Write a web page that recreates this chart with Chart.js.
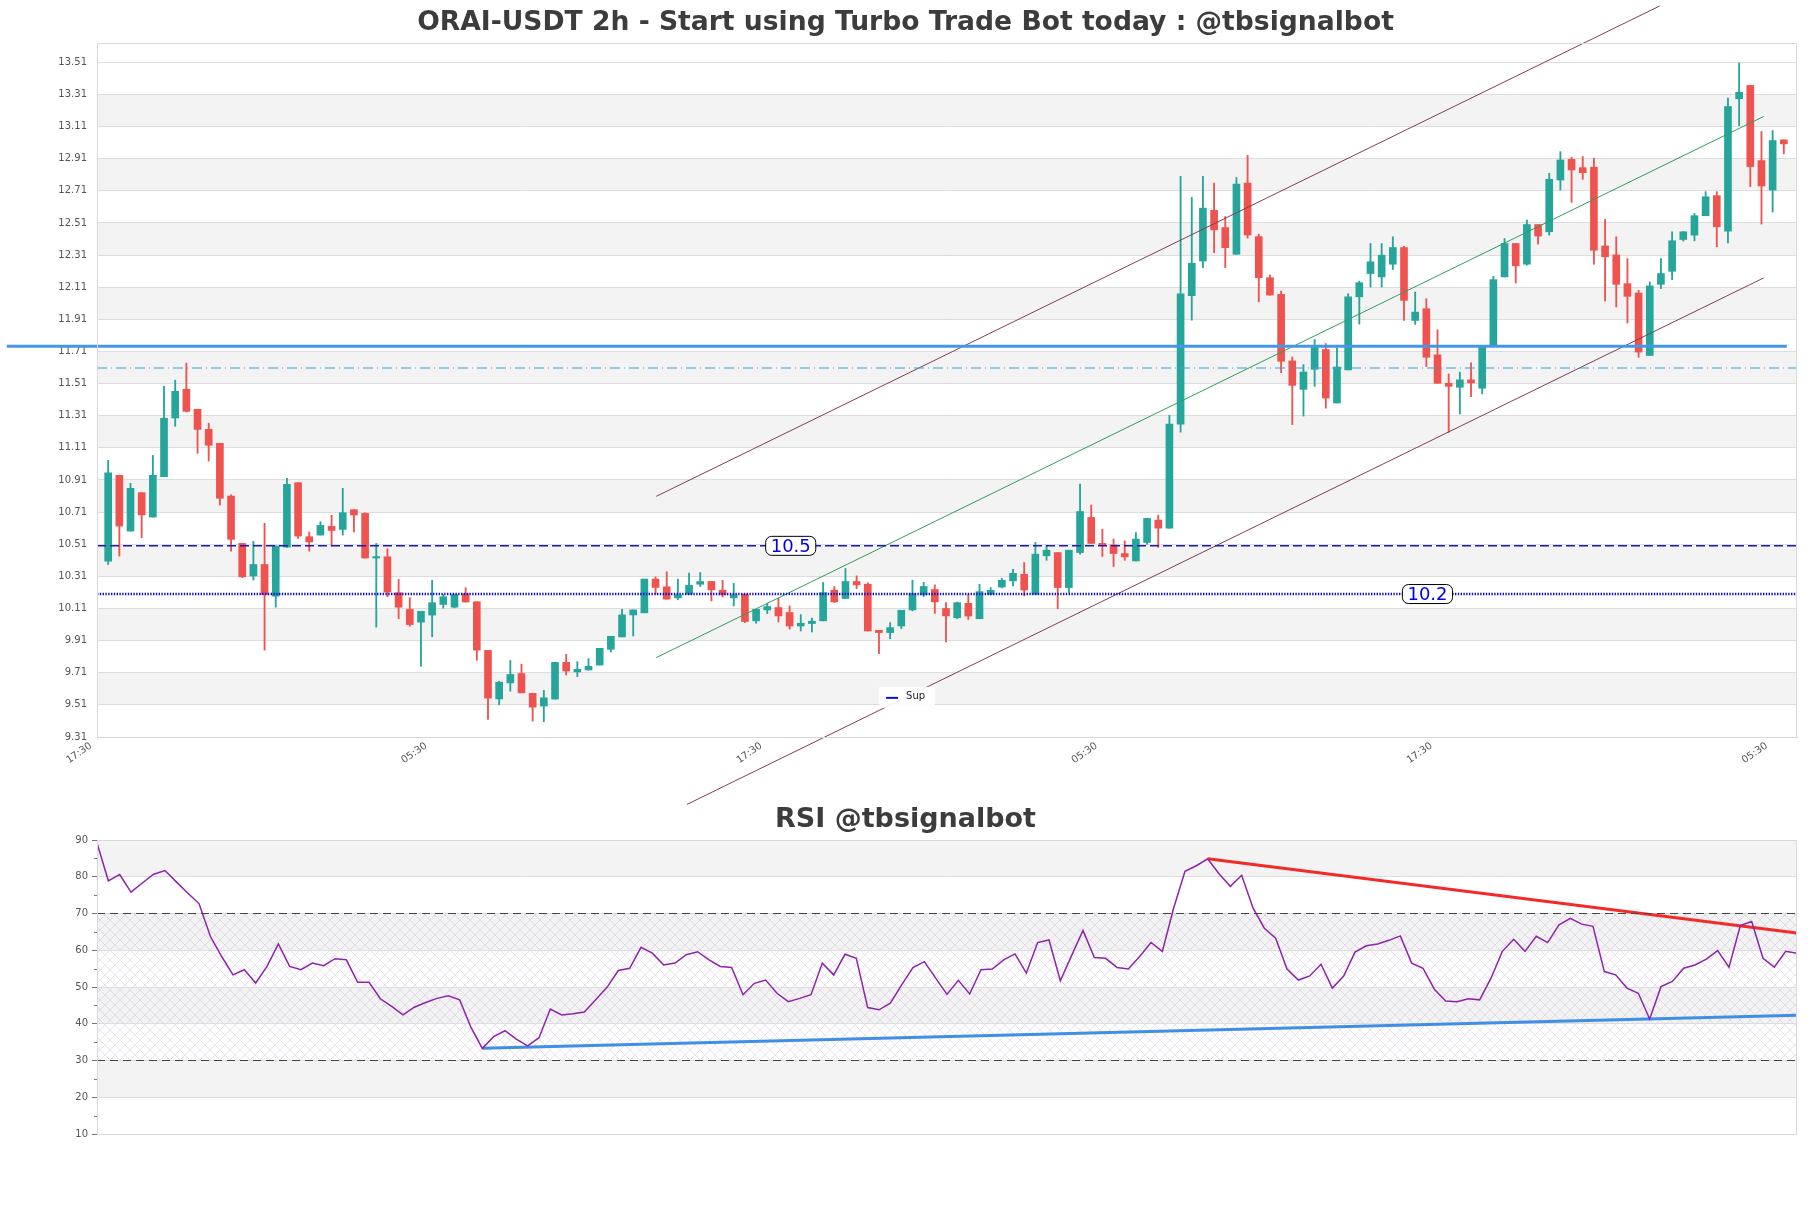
<!DOCTYPE html>
<html><head><meta charset="utf-8">
<script src="https://cdn.jsdelivr.net/npm/chart.js@4.4.1/dist/chart.umd.min.js"></script>
<style>
html,body{margin:0;padding:0;background:#fff;}
#wrap{position:relative;width:1811px;height:1208px;overflow:hidden;background:#fff;}
#rsiBox{position:absolute;left:0;top:780px;width:1811px;height:428px;z-index:1;}
#mainBox{position:absolute;left:0;top:0;width:1811px;height:830px;z-index:2;}
canvas{display:block;}
</style></head><body>
<div id="wrap">
<div id="rsiBox"><canvas id="rsi" width="1811" height="428"></canvas></div>
<div id="mainBox"><canvas id="main" width="1811" height="830"></canvas></div>
</div>
<script>
// ---------------- DATA ----------------
const OPEN = [10.405,10.939,10.592,10.831,10.679,10.93,11.296,11.475,11.35,11.225,
11.138,10.81,10.515,10.312,10.384,10.187,10.492,10.893,10.557,10.567,
10.621,10.602,10.725,10.702,10.424,10.432,10.208,10.104,10.025,10.069,
10.135,10.118,10.202,10.152,9.849,9.547,9.647,9.705,9.582,9.503,
9.546,9.775,9.715,9.727,9.758,9.856,9.933,10.07,10.083,10.293,
10.245,10.176,10.199,10.261,10.278,10.224,10.176,10.199,10.033,10.101,
10.116,10.085,10.001,10.016,10.033,10.224,10.172,10.278,10.261,9.974,
9.96,10.001,10.101,10.195,10.228,10.11,10.053,10.142,10.046,10.198,
10.244,10.282,10.323,10.198,10.438,10.458,10.24,10.458,10.677,10.515,
10.506,10.452,10.406,10.521,10.66,10.61,11.258,12.057,12.273,12.589,
12.481,12.315,12.758,12.425,12.169,12.065,11.651,11.474,11.599,11.722,
11.389,11.595,12.05,12.195,12.174,12.253,12.357,11.903,11.976,11.689,
11.512,11.487,11.533,11.481,11.741,12.174,12.382,12.253,12.5,12.455,
12.777,12.906,12.854,12.857,12.367,12.311,12.132,12.074,11.685,12.128,
12.209,12.407,12.434,12.555,12.68,12.459,13.283,13.366,12.898,12.715,
13.027];
const HIGH = [11.032,10.94,10.889,10.831,11.063,11.493,11.531,11.637,11.35,11.263,
11.138,10.818,10.515,10.528,10.64,10.499,10.92,10.893,10.586,10.65,
10.69,10.858,10.725,10.706,10.515,10.482,10.291,10.177,10.092,10.285,
10.197,10.2,10.239,10.152,9.849,9.657,9.786,9.763,9.582,9.6,
9.775,9.825,9.779,9.798,9.862,9.937,10.105,10.101,10.293,10.307,
10.338,10.293,10.33,10.334,10.278,10.286,10.266,10.199,10.105,10.143,
10.174,10.126,10.072,10.051,10.272,10.247,10.359,10.313,10.27,9.974,
10.022,10.099,10.286,10.272,10.257,10.147,10.15,10.198,10.261,10.24,
10.298,10.354,10.396,10.521,10.504,10.458,10.473,10.885,10.754,10.604,
10.542,10.531,10.583,10.671,10.691,11.312,12.8,12.669,12.8,12.758,
12.55,12.793,12.931,12.44,12.186,12.086,11.676,11.628,11.784,11.759,
11.732,12.069,12.148,12.382,12.382,12.424,12.365,12.08,12.038,11.845,
11.57,11.581,11.639,11.741,12.178,12.413,12.382,12.528,12.5,12.819,
12.954,12.919,12.923,12.913,12.532,12.424,12.288,12.09,12.143,12.288,
12.455,12.455,12.569,12.705,12.705,13.287,13.506,13.366,13.079,13.085,
13.027];
const LOW = [10.384,10.436,10.59,10.55,10.679,10.93,11.244,11.333,11.076,11.028,
10.754,10.467,10.303,10.287,9.851,10.118,10.49,10.546,10.467,10.567,
10.499,10.567,10.586,10.424,9.994,10.183,10.046,10.0,9.751,9.934,
10.112,10.114,10.15,9.788,9.419,9.51,9.595,9.585,9.409,9.405,
9.546,9.696,9.686,9.727,9.758,9.839,9.933,9.939,10.083,10.199,
10.168,10.164,10.199,10.247,10.157,10.182,10.126,10.022,10.018,10.078,
10.026,9.981,9.97,9.964,10.033,10.147,10.172,10.234,9.97,9.829,
9.922,9.985,10.095,10.184,10.08,9.902,10.046,10.042,10.046,10.194,
10.238,10.25,10.188,10.198,10.41,10.109,10.209,10.448,10.515,10.434,
10.371,10.41,10.406,10.51,10.49,10.61,11.208,11.905,12.232,12.325,
12.232,12.315,12.415,12.019,12.061,11.578,11.255,11.308,11.493,11.357,
11.389,11.595,11.88,12.111,12.111,12.22,11.903,11.878,11.616,11.512,
11.206,11.321,11.429,11.446,11.741,12.174,12.136,12.247,12.378,12.434,
12.715,12.638,12.782,12.253,12.024,11.987,11.887,11.674,11.685,12.101,
12.157,12.397,12.399,12.555,12.361,12.386,13.115,12.736,12.503,12.578,
12.94];
const CLOSE = [10.955,10.623,10.858,10.692,10.939,11.294,11.462,11.337,11.225,11.126,
10.796,10.54,10.307,10.384,10.197,10.499,10.883,10.561,10.524,10.627,
10.596,10.706,10.692,10.424,10.428,10.212,10.118,10.01,10.092,10.146,
10.183,10.197,10.15,9.851,9.552,9.651,9.699,9.585,9.496,9.554,
9.775,9.721,9.731,9.75,9.862,9.937,10.07,10.101,10.293,10.241,
10.168,10.195,10.255,10.278,10.226,10.195,10.195,10.029,10.105,10.122,
10.064,10.001,10.018,10.031,10.209,10.151,10.278,10.257,9.97,9.96,
9.991,10.099,10.203,10.247,10.151,10.064,10.146,10.063,10.215,10.223,
10.286,10.329,10.225,10.448,10.473,10.24,10.473,10.714,10.515,10.506,
10.452,10.431,10.542,10.671,10.61,11.258,12.069,12.259,12.602,12.467,
12.356,12.752,12.435,12.169,12.061,11.649,11.499,11.582,11.745,11.42,
11.613,12.05,12.138,12.268,12.309,12.357,12.028,11.955,11.674,11.512,
11.493,11.533,11.514,11.741,12.157,12.382,12.243,12.5,12.428,12.782,
12.902,12.84,12.823,12.34,12.299,12.128,12.053,11.706,12.118,12.195,
12.399,12.455,12.555,12.673,12.486,13.235,13.323,12.861,12.74,13.023,
13.002];
const RSI = [89.2,78.9,80.6,75.8,78.3,80.7,81.7,78.6,75.6,72.7,
63.8,58.3,53.3,54.7,51.1,55.6,61.7,55.6,54.7,56.5,
55.8,57.7,57.4,51.3,51.3,46.8,44.7,42.4,44.5,45.8,
46.9,47.6,46.5,39.0,33.3,36.5,38.1,35.8,34.0,36.2,
44.0,42.4,42.7,43.2,46.5,49.9,54.5,55.1,60.8,59.2,
56.0,56.5,58.8,59.6,57.4,55.6,55.3,47.9,51.0,51.9,
48.3,46.0,46.9,47.9,56.5,53.3,58.9,57.8,44.4,43.8,
45.6,50.6,55.3,56.9,52.4,48.0,51.8,48.1,54.7,54.9,
57.4,59.0,53.8,62.1,62.8,51.7,58.6,65.4,58.0,57.8,
55.3,54.9,58.3,62.1,59.7,71.5,81.5,83.0,84.9,80.8,
77.4,80.4,71.5,66.0,63.3,54.9,51.9,53.0,56.2,49.7,
53.0,59.5,61.2,61.7,62.7,63.9,56.5,55.1,49.4,46.2,
46.0,46.8,46.5,52.4,59.7,63.0,59.7,63.8,62.1,66.9,
68.7,67.1,66.5,54.2,53.3,49.7,48.3,41.3,50.1,51.5,
55.1,56.0,57.6,59.9,55.4,66.7,67.8,57.8,55.4,59.7,
59.2];

const X_TICK_POS = [-1, 29, 59, 89, 119, 149];
const X_TICK_LABELS = ['17:30','05:30','17:30','05:30','17:30','05:30'];
const Y_TICKS = [9.31,9.51,9.71,9.91,10.11,10.31,10.51,10.71,10.91,11.11,11.31,
                 11.51,11.71,11.91,12.11,12.31,12.51,12.71,12.91,13.11,13.31,13.51];
const RSI_TICKS = [10,20,30,40,50,60,70,80,90];

// horizontal levels
const RES_LEVEL = 11.742, RES_X = [-9.07, 150.27];
const RES2_LEVEL = 11.607;
const SUP_LEVEL_A = 10.5, SUP_LEVEL_B = 10.2;
const LEVEL_LABEL_X = [61.1, 118.1];
const LEVEL_LABEL_VAL = [10.5, 10.2];
const LEVEL_LABEL_TEXT = ['10.5', '10.2'];

// regression channel
const CH_UP_X = [49.06, 138.9], CH_UP_Y = [10.808, 13.861];
const CH_MID_X = [49.06, 148.2], CH_MID_Y = [9.804, 13.173];
const CH_LOW_X = [51.8, 148.2], CH_LOW_Y = [8.89, 12.168];

// RSI trend lines
const RSI_SUP_X = [34, 150], RSI_SUP_Y = [33.3, 42.3];
const RSI_RES_X = [98, 150], RSI_RES_Y = [84.9, 64.7];
const RSI_LEVELS = [70, 30];

// ---------------- CHART ----------------
const X_MIN = -1, X_MAX = 151.18;
const Y_MIN = 9.31, Y_MAX = 13.63;
const FONT = 'DejaVu Sans';
const UP = '#26a69a', DOWN = '#ef5350';
const idx = OPEN.map((_, i) => i);
const candleColors = idx.map(i => CLOSE[i] >= OPEN[i] ? UP : DOWN);
const pts = (xs, ys) => xs.map((x, k) => ({x, y: ys[k]}));
const hline = (v, xs) => xs.map(x => ({x, y: v}));

const mainBands = {
  id: 'mainBands',
  beforeDraw(chart) {
    const {ctx, chartArea: a, scales: {y}} = chart;
    ctx.save();
    ctx.fillStyle = '#f3f3f3';
    for (let k = 1; k + 1 < Y_TICKS.length; k += 2) {
      const y1 = y.getPixelForValue(Y_TICKS[k + 1]), y2 = y.getPixelForValue(Y_TICKS[k]);
      ctx.fillRect(a.left, y1, a.right - a.left, y2 - y1);
    }
    ctx.restore();
  },
  afterDraw(chart) {
    const {ctx, chartArea: a, scales: {x, y}} = chart;
    ctx.save();
    ctx.strokeStyle = '#d9d9d9'; ctx.lineWidth = 1;
    ctx.strokeRect(a.left + 0.5, a.top + 0.5, a.right - a.left - 1, a.bottom - a.top);
    // level labels
    ctx.font = '18px ' + FONT;
    ctx.textBaseline = 'middle'; ctx.textAlign = 'center';
    LEVEL_LABEL_TEXT.forEach((t, k) => {
      const cx = x.getPixelForValue(LEVEL_LABEL_X[k]);
      const cy = y.getPixelForValue(LEVEL_LABEL_VAL[k]);
      const w = ctx.measureText(t).width + 10, h = 19;
      ctx.beginPath();
      ctx.roundRect(cx - w / 2, cy - h / 2, w, h, 6);
      ctx.fillStyle = '#ffffff'; ctx.fill();
      ctx.strokeStyle = '#000'; ctx.lineWidth = 1; ctx.stroke();
      ctx.fillStyle = '#0000ee';
      ctx.fillText(t, cx, cy + 1);
    });
    // legend
    const lx = x.getPixelForValue(69.1), ly = y.getPixelForValue(9.51) - 8;
    ctx.fillStyle = 'rgba(255,255,255,0.9)';
    ctx.fillRect(lx - 1, ly - 10, 56, 21);
    ctx.strokeStyle = '#1010cc'; ctx.lineWidth = 2;
    ctx.beginPath(); ctx.moveTo(lx + 6, ly + 1); ctx.lineTo(lx + 18, ly + 1); ctx.stroke();
    ctx.fillStyle = '#222'; ctx.font = '10px ' + FONT; ctx.textAlign = 'left';
    ctx.fillText('Sup', lx + 26, ly);
    ctx.restore();
  }
};

new Chart(document.getElementById('main'), {
  type: 'bar',
  data: {
    datasets: [
      {type: 'bar', label: 'wick', data: idx.map(i => ({x: i, y: [LOW[i], HIGH[i]]})),
       backgroundColor: candleColors, barThickness: 1.2, grouped: false, order: 3},
      {type: 'bar', label: 'body', data: idx.map(i => ({x: i, y: [OPEN[i], CLOSE[i]]})),
       backgroundColor: candleColors, barThickness: 7, minBarLength: 1.5, grouped: false, order: 2},
      {type: 'line', label: 'res', data: hline(RES_LEVEL, RES_X), borderColor: '#4596ea', borderWidth: 3, pointRadius: 0, clip: false, order: 1},
      {type: 'line', label: 'res2', data: hline(RES2_LEVEL, [X_MIN, X_MAX]), borderColor: '#2fa3da', borderWidth: 1.2, borderDash: [10, 4, 1, 4], pointRadius: 0, order: 1},
      {type: 'line', label: 'supA', data: hline(SUP_LEVEL_A, [X_MIN, X_MAX]), borderColor: '#1c1cb0', borderWidth: 1.5, borderDash: [9, 4], pointRadius: 0, order: 1},
      {type: 'line', label: 'Sup', data: hline(SUP_LEVEL_B, [X_MIN, X_MAX]), borderColor: '#0f0fd0', borderWidth: 2.6, borderDash: [1.4, 1.4], pointRadius: 0, order: 1},
      {type: 'line', label: 'chUp', data: pts(CH_UP_X, CH_UP_Y), borderColor: '#7f3f55', borderWidth: 1, pointRadius: 0, clip: false, order: 1},
      {type: 'line', label: 'chMid', data: pts(CH_MID_X, CH_MID_Y), borderColor: '#2f9e5e', borderWidth: 1, pointRadius: 0, clip: false, order: 1},
      {type: 'line', label: 'chLow', data: pts(CH_LOW_X, CH_LOW_Y), borderColor: '#7f3f55', borderWidth: 1, pointRadius: 0, clip: false, order: 1}
    ]
  },
  options: {
    responsive: false, animation: false, events: [],
    layout: {padding: {left: 14, right: 14, top: 0, bottom: 43}},
    plugins: {
      legend: {display: false}, tooltip: {enabled: false},
      title: {display: true, text: 'ORAI-USDT 2h - Start using Turbo Trade Bot today : @tbsignalbot',
        color: '#3c3c3c', font: {family: FONT, size: 26.6, weight: 'bold'}, padding: {top: 7, bottom: 4.1}}
    },
    scales: {
      x: {type: 'linear', min: X_MIN, max: X_MAX, offset: false,
        grid: {display: false, offset: false},
        border: {display: true, color: '#d9d9d9'},
        afterBuildTicks: s => { s.ticks = X_TICK_POS.map(v => ({value: v})); },
        afterFit: s => { s.height = 50; },
        ticks: {autoSkip: false, minRotation: 35, maxRotation: 35, padding: -5, labelOffset: -6, color: '#555',
          font: {family: FONT, size: 10}, callback: (v, i) => X_TICK_LABELS[i]}},
      y: {min: Y_MIN, max: Y_MAX,
        grid: {color: '#dddddd', drawTicks: false},
        border: {display: true, color: '#d9d9d9'},
        afterBuildTicks: s => { s.ticks = Y_TICKS.map(v => ({value: v})); },
        afterFit: s => { s.width = 83; },
        ticks: {padding: 10, color: '#555', font: {family: FONT, size: 10}, callback: v => v.toFixed(2)}}
    }
  },
  plugins: [mainBands]
});

// hatch pattern for RSI
const pc = document.createElement('canvas'); pc.width = 10; pc.height = 10;
const pg = pc.getContext('2d');
pg.strokeStyle = 'rgba(165,135,190,0.3)'; pg.lineWidth = 0.8;
pg.beginPath(); pg.moveTo(0, 0); pg.lineTo(10, 10); pg.moveTo(10, 0); pg.lineTo(0, 10); pg.stroke();

const rsiBands = {
  id: 'rsiBands',
  beforeDraw(chart) {
    const {ctx, chartArea: a, scales: {y}} = chart;
    ctx.save();
    ctx.fillStyle = '#f3f3f3';
    for (let k = 1; k + 1 < RSI_TICKS.length; k += 2) {
      const y1 = y.getPixelForValue(RSI_TICKS[k + 1]), y2 = y.getPixelForValue(RSI_TICKS[k]);
      ctx.fillRect(a.left, y1, a.right - a.left, y2 - y1);
    }
    const t = y.getPixelForValue(RSI_LEVELS[0]), b = y.getPixelForValue(RSI_LEVELS[1]);
    ctx.fillStyle = ctx.createPattern(pc, 'repeat');
    ctx.fillRect(a.left, t, a.right - a.left, b - t);
    ctx.restore();
  },
  afterDraw(chart) {
    const {ctx, chartArea: a, scales: {y}} = chart;
    ctx.save();
    ctx.strokeStyle = '#d9d9d9'; ctx.lineWidth = 1;
    ctx.strokeRect(a.left + 0.5, a.top + 0.5, a.right - a.left - 1, a.bottom - a.top);
    ctx.strokeStyle = '#777';
    for (let v = 15; v < 90; v += 10) {
      const py = Math.round(y.getPixelForValue(v)) + 0.5;
      ctx.beginPath(); ctx.moveTo(a.left - 3, py); ctx.lineTo(a.left, py); ctx.stroke();
    }
    ctx.restore();
  }
};

new Chart(document.getElementById('rsi'), {
  type: 'line',
  data: {
    datasets: [
      {label: 'l70', data: hline(RSI_LEVELS[0], [0, 150]), borderColor: '#444', borderWidth: 1.2, borderDash: [8, 5], pointRadius: 0},
      {label: 'l30', data: hline(RSI_LEVELS[1], [0, 150]), borderColor: '#444', borderWidth: 1.2, borderDash: [8, 5], pointRadius: 0},
      {label: 'RSI', data: RSI.map((v, i) => ({x: i, y: v})), borderColor: '#8e24aa', borderWidth: 1.5, pointRadius: 0, tension: 0},
      {label: 'sup', data: pts(RSI_SUP_X, RSI_SUP_Y), borderColor: '#3f8fe6', borderWidth: 3, pointRadius: 0},
      {label: 'res', data: pts(RSI_RES_X, RSI_RES_Y), borderColor: '#f42a2a', borderWidth: 3, pointRadius: 0}
    ]
  },
  options: {
    responsive: false, animation: false, events: [],
    layout: {padding: {left: 14, right: 14, top: 0, bottom: 74}},
    plugins: {
      legend: {display: false}, tooltip: {enabled: false},
      title: {display: true, text: 'RSI @tbsignalbot', color: '#3c3c3c',
        font: {family: FONT, size: 27, weight: 'bold'}, padding: {top: 23.8, bottom: 3.8}}
    },
    scales: {
      x: {type: 'linear', min: 0, max: 150, display: false},
      y: {min: 10, max: 90,
        grid: {color: '#dddddd', tickLength: 5, tickColor: '#777'},
        border: {display: true, color: '#d9d9d9'},
        afterBuildTicks: s => { s.ticks = RSI_TICKS.map(v => ({value: v})); },
        afterFit: s => { s.width = 83; },
        ticks: {padding: 4, color: '#555', font: {family: FONT, size: 10}}}
    }
  },
  plugins: [rsiBands]
});
</script>
</body></html>
